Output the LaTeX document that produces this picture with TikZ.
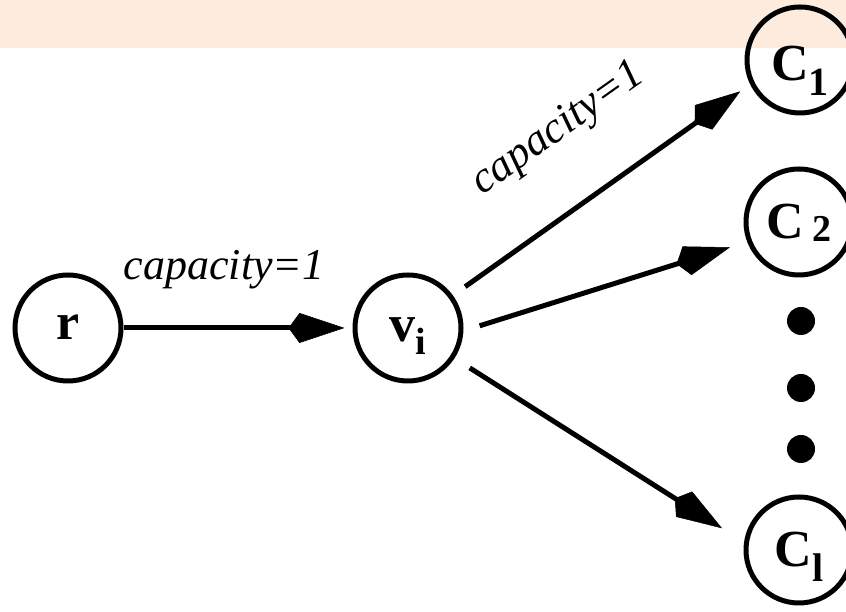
\documentclass[tikz,border=0pt]{standalone}
\usepackage{fontspec}
\setmainfont{Liberation Serif}
\usepackage{xcolor}
\usetikzlibrary{arrows.meta, positioning}

\definecolor{bandpeach}{RGB}{253,235,222}
\newcommand{\lowsub}[3]{\raisebox{-#2}{\fontsize{#1}{#1}\selectfont #3}}

\begin{document}
\begin{tikzpicture}[
    x=1pt, y=1pt,
    vert/.style={circle, draw, line width=5pt, minimum size=106pt, inner sep=0pt, text depth=0pt, font=\bfseries\fontsize{52}{56}\selectfont},
    catg/.style={vert, text height=34pt},
    dotnode/.style={circle, fill, minimum size=28pt, inner sep=0pt},
    capl/.style={font=\itshape\fontsize{44}{48}\selectfont, inner sep=0pt},
    arr/.style={-{Kite[length=56pt, width=30pt, inset=11pt, line width=0.5pt]}, line width=5pt},
]
    \useasboundingbox (0,0) rectangle (846,612);
    \clip (0,0) rectangle (846,612);

    % Top band
    \fill[bandpeach] (0,564) rectangle (846,612);

    % Source and item
    \node[vert, text height=24pt] (r) at (68,284) {r};
    \node[vert, text height=28pt] (v) at (408,284) {v\lowsub{38pt}{13pt}{i}};

    % Categories
    \node[catg, text height=42pt] (c1) at (800,552) {C\lowsub{40pt}{15pt}{1}};
    \node[catg] (c2) at (799,390) {C\,\lowsub{38pt}{3pt}{2}};
    \node[catg] (cl) at (799,62) {C\lowsub{40pt}{15pt}{l}};

    % Dots between them
    \foreach \y [count=\i] in {291,224,163}
        \node[dotnode] (d\i) at (801,\y) {};

    % --- Arrows ---
    \draw[arr, shorten >=8pt] (r) -- (v)
        node[capl, above=36pt, pos=0.44] {capacity=1};
    \draw[arr, shorten <=15pt, shorten >=12pt] (v.36) -- (c1.206)
        node[capl, sloped, above=52pt, midway] {capacity=1};
    \draw[arr, shorten <=17pt, shorten >=18pt] (v.-3) -- (c2.201);
    \draw[arr, shorten <=18pt, shorten >=26pt] (v.-33) -- (cl.172);

\end{tikzpicture}
\end{document}
